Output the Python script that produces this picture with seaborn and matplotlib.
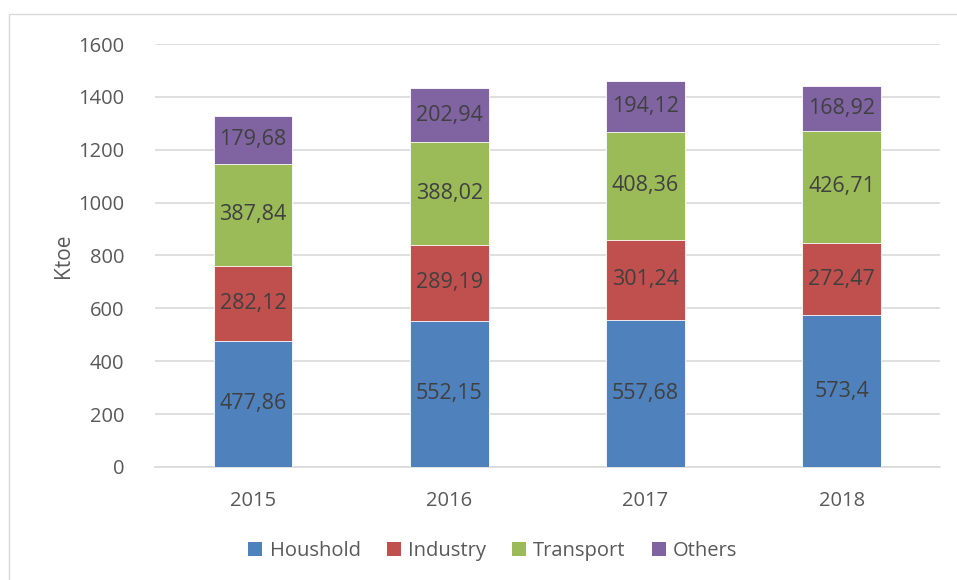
import pandas as pd
import seaborn as sns
import matplotlib.pyplot as plt
from matplotlib.patches import Rectangle, Patch

years = ["2015", "2016", "2017", "2018"]
houshold = [477.86, 552.15, 557.68, 573.4]
industry = [282.12, 289.19, 301.24, 272.47]
transport = [387.84, 388.02, 408.36, 426.71]
others = [179.68, 202.94, 194.12, 168.92]
labels = ["Houshold", "Industry", "Transport", "Others"]
colors = ["#4F81BD", "#C0504D", "#9BBB59", "#8064A2"]

df = pd.DataFrame({"year": years, "Houshold": houshold, "Industry": industry,
                   "Transport": transport, "Others": others})
# cumulative tops for stacking
cum = df[labels].cumsum(axis=1)

sns.set_style("white")
plt.rcParams["font.family"] = ["Open Sans", "DejaVu Sans"]
txt = "#595959"

fig = plt.figure(figsize=(9.57, 5.8), dpi=100)
ax = fig.add_axes([0.162, 0.195, 0.82, 0.729])
fig.patches.append(Rectangle((9 / 957, -0.1), 1.2, 1 - 14 / 580 + 0.1, transform=fig.transFigure,
                             fill=False, edgecolor="#D9D9D9", linewidth=1))

# draw from top layer down so lower segments cover the upper ones
for name, col in reversed(list(zip(labels, colors))):
    sns.barplot(x=df["year"], y=cum[name], color=col, saturation=1, width=0.4, ax=ax,
                edgecolor="white", linewidth=0.6, zorder=3)

for i in range(len(years)):
    base = 0
    for name in labels:
        v = df[name][i]
        ax.text(i, base + v / 2, f"{v:g}".replace(".", ","), ha="center", va="center",
                fontsize=15.5, color="#404040", zorder=4)
        base += v

ax.set_ylim(0, 1600)
ax.set_xlim(-0.5, 3.5)
ax.set_yticks(range(0, 1601, 200))
ax.yaxis.grid(True, color="#D9D9D9", linewidth=1.2, zorder=0)
ax.set_axisbelow(True)
for s in ["top", "right", "left"]:
    ax.spines[s].set_visible(False)
ax.spines["bottom"].set_color("#D9D9D9")
ax.spines["bottom"].set_linewidth(1.2)
ax.tick_params(axis="both", length=0, labelsize=14.5, labelcolor=txt)
ax.tick_params(axis="y", pad=22)
ax.tick_params(axis="x", pad=17)
ax.set_xlabel("")
ax.set_ylabel("Ktoe", fontsize=15, color=txt, labelpad=3)

handles = [Patch(facecolor=c, edgecolor="none") for c in colors]
fig.legend(handles, labels, loc="center", bbox_to_anchor=(0.515, 0.05), ncol=4, frameon=False,
           fontsize=14.5, labelcolor=txt, handlelength=0.7, handleheight=0.7,
           handletextpad=0.35, columnspacing=1.3)

fig.savefig("out.png", dpi=100)
